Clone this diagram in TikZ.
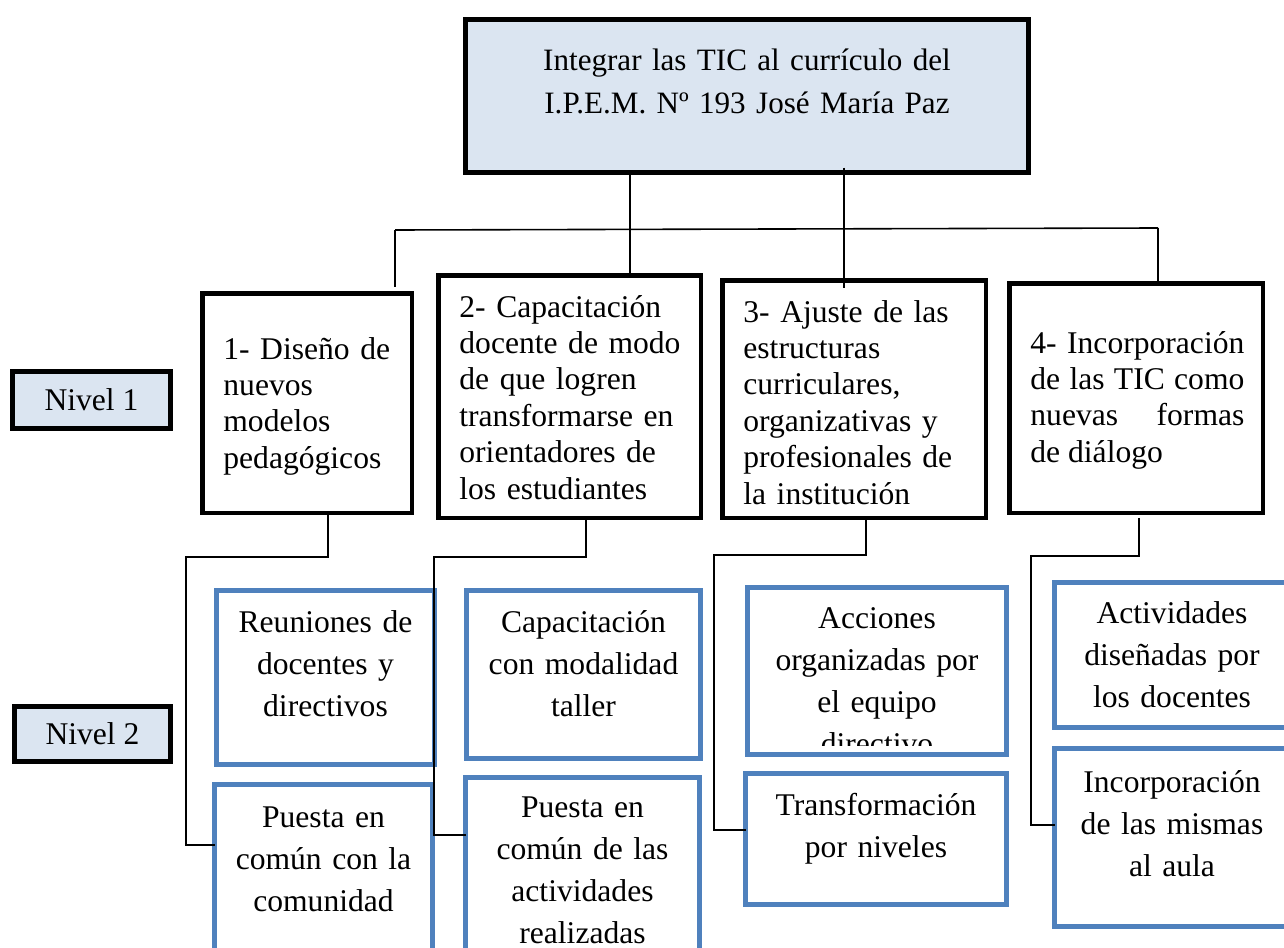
\documentclass[tikz,border=0pt]{standalone}
\usepackage{fontspec}
\setmainfont{Liberation Serif}
\usetikzlibrary{calc}
\definecolor{bluebd}{HTML}{4F81BD}
\definecolor{lightfill}{HTML}{DBE5F1}
\begin{document}
\begin{tikzpicture}[x=0.5pt,y=-0.5pt,
  sz/.style 2 args={minimum width=#1*0.5pt, minimum height=#2*0.5pt},
  topbox/.style={draw=black, fill=lightfill, line width=2.5pt, inner sep=0pt, outer sep=0pt},
  nivel/.style={draw=black, fill=lightfill, line width=2.5pt, inner sep=0pt, outer sep=0pt, font=\fontsize{15.8}{18.2}\selectfont},
  lvone/.style={draw=black, line width=2.25pt, inner sep=0pt, outer sep=0pt},
  lvtwo/.style={draw=bluebd, line width=2.5pt, inner sep=0pt, outer sep=0pt},
  txtop/.style={font=\fontsize{15.55}{21}\selectfont, inner sep=0pt, align=center, text width=300pt, anchor=base},
  txone/.style={font=\fontsize{15.8}{18.2}\selectfont, inner sep=0pt, align=left, text width=120pt, anchor=base west},
  txjust/.style={font=\fontsize{15.8}{18.2}\selectfont, inner sep=0pt, anchor=base west},
  txtwo/.style={font=\fontsize{15.8}{21}\selectfont, inner sep=0pt, align=center, text width=120pt, anchor=base},
  conn/.style={draw=black, line width=0.8pt, line join=miter}
]
\clip (0,0) rectangle (1284,947);

% top box
\node[topbox, sz={563}{153}] (top) at (747,96) {};
\node[txtop] (ttop) at (747,71) {Integrar las TIC al currículo del\\I.P.E.M. Nº 193 José María Paz};

% level labels
\node[nivel, sz={158}{57}] (n1) at (91.5,400) {Nivel 1};
\node[nivel, sz={156}{55}] (n2) at (92.5,734) {Nivel 2};

% level 1 boxes
\node[lvone, sz={209.5}{219.5}] (b1) at (307,403) {};
\node[lvone, sz={262.5}{242.5}] (b2) at (569.5,396.5) {};
\node[lvone, sz={263.5}{237.5}] (b3) at (854,399) {};
\node[lvone, sz={253.5}{229.5}] (b4) at (1136,398) {};

\node[txone] (t1) at (223,359) {1- Diseño de\\nuevos\\modelos\\pedagógicos};
\node[txone] (t2) at (459,317) {2- Capacitación\\docente de modo\\de que logren\\transformarse en\\orientadores de\\los estudiantes};
\node[txone] (t3) at (743,322) {3- Ajuste de las\\estructuras\\curriculares,\\organizativas y\\profesionales de\\la institución};
\node[txjust] (t4) at (1030,353) {\parbox[t]{107pt}{\tolerance=10000\relax\hyphenpenalty=10000\relax 4- Incorporación\linebreak de las TIC como\linebreak nuevas formas\linebreak de diálogo}};

% level 2 boxes
\node[lvtwo, sz={218}{174}] (l2a) at (325.5,677.5) {};
\node[lvtwo, sz={218}{183}] (l2b) at (323.5,876) {};
\node[lvtwo, sz={234}{168}] (l2c) at (583.5,674.5) {};
\node[lvtwo, sz={234}{190}] (l2d) at (582.5,872.5) {};
\node[lvtwo, sz={259}{167}] (l2e) at (877,671) {};
\node[lvtwo, sz={261}{131}] (l2f) at (876,839) {};
\node[lvtwo, sz={235}{145}] (l2g) at (1172,655) {};
\node[lvtwo, sz={235}{178}] (l2h) at (1172,837.5) {};

\node[txtwo] (ta) at (325.5,632) {Reuniones de\\docentes y\\directivos};
\node[txtwo] (tb) at (323.5,827) {Puesta en\\común con la\\comunidad};
\node[txtwo] (tc) at (583.5,632) {Capacitación\\con modalidad\\taller};
\node[txtwo] (td) at (582.5,817) {Puesta en\\común de las\\actividades\\realizadas};
\begin{scope}
  \clip (740,580) rectangle (1012,745);
  \node[txtwo] (te) at (877,628) {Acciones\\organizadas por\\el equipo\\directivo};
\end{scope}
\node[txtwo] (tf) at (876,815) {Transformación\\por niveles};
\node[txtwo] (tg) at (1172,623) {Actividades\\diseñadas por\\los docentes};
\node[txtwo] (th) at (1172,792) {Incorporación\\de las mismas\\al aula};

% connectors top
\coordinate (a1) at (630,0);
\coordinate (a2) at (844,0);
\coordinate (hl) at (395,230);
\coordinate (hr) at (1158,228);
\draw[conn] (top.south -| a1) -- (b2.north -| a1);
\draw[conn] ($(top.south -| a2)+(0,-5)$) -- ($(b3.north -| a2)+(0,8)$);
\draw[conn] (hl) -- (hr);
\draw[conn] (hl) -- ($(b1.north -| hl)+(0,-6)$);
\draw[conn] (hr) -- (b4.north -| hr);

% connectors level 1 -> level 2
\coordinate (p1) at (328,557); \coordinate (q1) at (186,557); \coordinate (r1) at (186,845);
\draw[conn] (b1.south -| p1) -- (p1) -- (q1) -- (r1) -- (r1 -| l2b.west);
\coordinate (p2) at (586,557); \coordinate (q2) at (434,557); \coordinate (r2) at (434,835);
\draw[conn] (b2.south -| p2) -- (p2) -- (q2) -- (r2) -- (r2 -| l2d.west);
\coordinate (p3) at (866,555); \coordinate (q3) at (714,555); \coordinate (r3) at (714,830);
\draw[conn] (b3.south -| p3) -- (p3) -- (q3) -- (r3) -- (r3 -| l2f.west);
\coordinate (p4) at (1139,556); \coordinate (q4) at (1031,556); \coordinate (r4) at (1031,825);
\draw[conn] ($(b4.south -| p4)+(0,5)$) -- (p4) -- (q4) -- (r4) -- (r4 -| l2h.west);
\end{tikzpicture}
\end{document}
